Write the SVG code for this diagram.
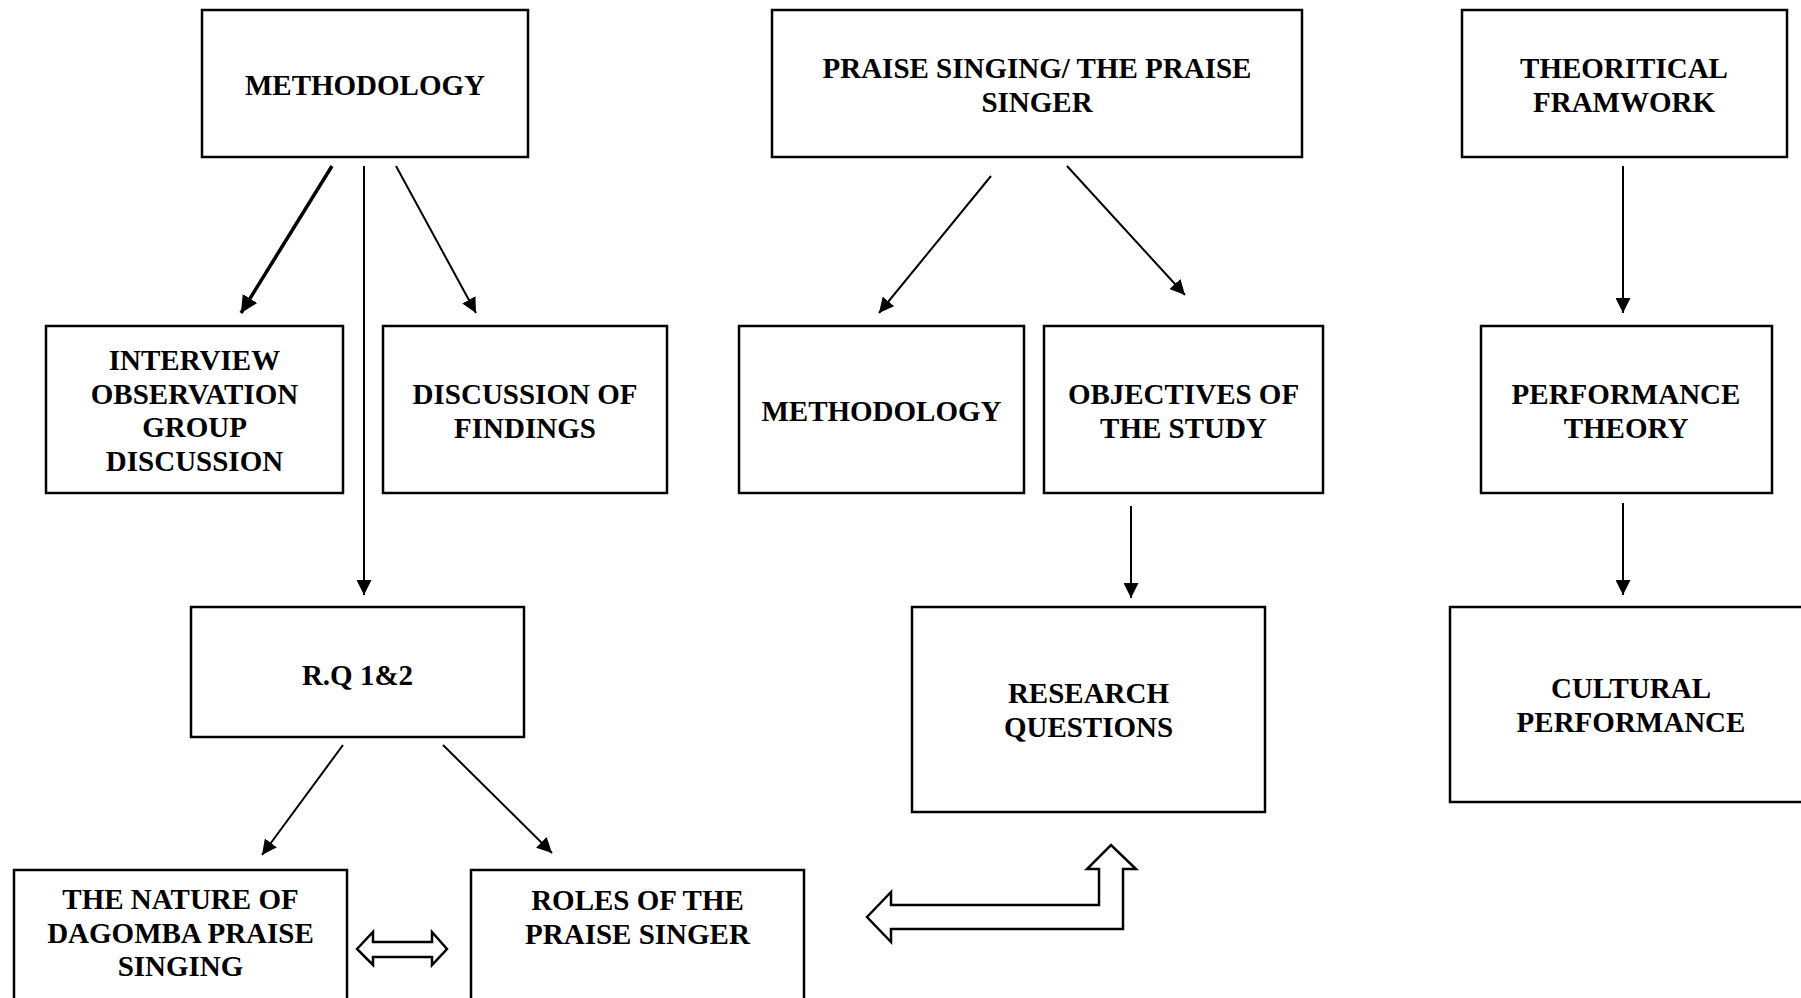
<svg xmlns="http://www.w3.org/2000/svg" width="1801" height="998" viewBox="0 0 1801 998">
<style>
.box{fill:#fff;stroke:#000;stroke-width:2.5}
.t{font-family:"Liberation Serif","Times New Roman",serif;font-weight:bold;font-size:29px;fill:#000;text-anchor:middle}
.ln{fill:none;stroke:#000;stroke-width:2}
.thick{fill:none;stroke:#000;stroke-width:3.5}
.hollow{fill:#fff;stroke:#000;stroke-width:2.5;stroke-linejoin:miter}
</style>
<defs>
<marker id="ah" viewBox="0 0 15 15" refX="15" refY="7.5" markerWidth="15" markerHeight="15" markerUnits="userSpaceOnUse" orient="auto">
<path d="M0,0 L15,7.5 L0,15 z" fill="#000"/>
</marker>
<marker id="ahb" viewBox="0 0 17 17" refX="17" refY="8.5" markerWidth="17" markerHeight="17" markerUnits="userSpaceOnUse" orient="auto">
<path d="M0,0 L17,8.5 L0,17 z" fill="#000"/>
</marker>
</defs>
<rect width="1801" height="998" fill="#fff"/>

<g id="methodology-top">
<rect class="box" x="202" y="10" width="326" height="147"/>
<text class="t" x="365" y="95">METHODOLOGY</text>
</g>
<g id="praise-singing">
<rect class="box" x="772" y="10" width="530" height="147"/>
<text class="t" x="1037" y="78">PRAISE SINGING/ THE PRAISE</text>
<text class="t" x="1037" y="112">SINGER</text>
</g>
<g id="theoretical-framework">
<rect class="box" x="1462" y="10" width="325" height="147"/>
<text class="t" x="1624" y="78">THEORITICAL</text>
<text class="t" x="1624" y="112">FRAMWORK</text>
</g>
<g id="interview">
<rect class="box" x="46" y="326" width="297" height="167"/>
<text class="t" x="194.5" y="370">INTERVIEW</text>
<text class="t" x="194.5" y="404">OBSERVATION</text>
<text class="t" x="194.5" y="437">GROUP</text>
<text class="t" x="194.5" y="471">DISCUSSION</text>
</g>
<g id="discussion-findings">
<rect class="box" x="383" y="326" width="284" height="167"/>
<text class="t" x="525" y="404">DISCUSSION OF</text>
<text class="t" x="525" y="438">FINDINGS</text>
</g>
<g id="methodology-mid">
<rect class="box" x="739" y="326" width="285" height="167"/>
<text class="t" x="881.5" y="421">METHODOLOGY</text>
</g>
<g id="objectives">
<rect class="box" x="1044" y="326" width="279" height="167"/>
<text class="t" x="1183.5" y="404">OBJECTIVES OF</text>
<text class="t" x="1183.5" y="438">THE STUDY</text>
</g>
<g id="performance-theory">
<rect class="box" x="1481" y="326" width="291" height="167"/>
<text class="t" x="1626" y="404">PERFORMANCE</text>
<text class="t" x="1626" y="438">THEORY</text>
</g>
<g id="rq12">
<rect class="box" x="191" y="607" width="333" height="130"/>
<text class="t" x="357.5" y="685">R.Q 1&amp;2</text>
</g>
<g id="research-questions">
<rect class="box" x="912" y="607" width="353" height="205"/>
<text class="t" x="1088.5" y="703">RESEARCH</text>
<text class="t" x="1088.5" y="737">QUESTIONS</text>
</g>
<g id="cultural-performance">
<rect class="box" x="1450" y="607" width="362" height="195"/>
<text class="t" x="1631" y="698">CULTURAL</text>
<text class="t" x="1631" y="732">PERFORMANCE</text>
</g>
<g id="nature">
<rect class="box" x="14" y="870" width="333" height="140"/>
<text class="t" x="180.5" y="909">THE NATURE OF</text>
<text class="t" x="180.5" y="943">DAGOMBA PRAISE</text>
<text class="t" x="180.5" y="976">SINGING</text>
</g>
<g id="roles">
<rect class="box" x="471" y="870" width="333" height="140"/>
<text class="t" x="637.5" y="910">ROLES OF THE</text>
<text class="t" x="637.5" y="944">PRAISE SINGER</text>
</g>

<g id="connectors">
<line class="thick" x1="332" y1="166" x2="241" y2="313" marker-end="url(#ahb)"/>
<line class="ln" x1="364" y1="166" x2="364" y2="595" marker-end="url(#ah)"/>
<line class="ln" x1="396" y1="166" x2="476" y2="313" marker-end="url(#ah)"/>
<line class="ln" x1="991" y1="176" x2="879" y2="313" marker-end="url(#ah)"/>
<line class="ln" x1="1067" y1="166" x2="1185" y2="295" marker-end="url(#ah)"/>
<line class="ln" x1="1623" y1="166" x2="1623" y2="313" marker-end="url(#ah)"/>
<line class="ln" x1="1131" y1="506" x2="1131" y2="598" marker-end="url(#ah)"/>
<line class="ln" x1="1623" y1="503" x2="1623" y2="595" marker-end="url(#ah)"/>
<line class="ln" x1="343" y1="745" x2="262" y2="855" marker-end="url(#ah)"/>
<line class="ln" x1="443" y1="745" x2="552" y2="853" marker-end="url(#ah)"/>
<polygon class="hollow" points="357,949 373,932 373,942 432,942 432,932 447,949 432,965 432,957 373,957 373,965"/>
<polygon class="hollow" points="867,917 891,892 891,905 1099,905 1099,869 1087,869 1111,845 1136,869 1123,869 1123,929 891,929 891,942"/>
</g>
</svg>
